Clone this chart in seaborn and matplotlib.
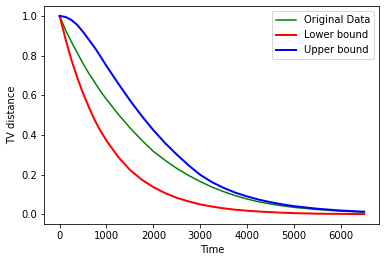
import matplotlib
matplotlib.use('Agg')
import matplotlib.pyplot as plt
import seaborn as sns

# values
time = [0, 125, 250, 375, 500, 625, 750, 875, 1000, 1250, 1500, 1750, 2000,
        2250, 2500, 2750, 3000, 3250, 3500, 3750, 4000, 4250, 4500, 4750,
        5000, 5500, 6000, 6500]
original = [1.0, 0.93, 0.87, 0.815, 0.76, 0.71, 0.665, 0.62, 0.58, 0.505, 0.437,
            0.375, 0.318, 0.273, 0.232, 0.197, 0.166, 0.138, 0.115, 0.095, 0.078,
            0.064, 0.053, 0.044, 0.036, 0.025, 0.017, 0.012]
lower = [1.0, 0.885, 0.78, 0.69, 0.61, 0.54, 0.475, 0.42, 0.372, 0.29, 0.225,
         0.176, 0.138, 0.108, 0.084, 0.066, 0.051, 0.04, 0.031, 0.024, 0.019,
         0.015, 0.012, 0.009, 0.007, 0.004, 0.003, 0.002]
upper = [1.0, 0.995, 0.98, 0.955, 0.92, 0.88, 0.84, 0.795, 0.748, 0.66, 0.575,
         0.497, 0.425, 0.36, 0.302, 0.248, 0.2, 0.163, 0.134, 0.11, 0.091,
         0.075, 0.062, 0.051, 0.042, 0.029, 0.02, 0.014]

fig, ax = plt.subplots(figsize=(386 / 72, 262 / 72), dpi=72)
fig.subplots_adjust(left=0.115, right=0.983, top=0.977, bottom=0.145)

sns.lineplot(x=time, y=original, color='green', linewidth=1.5, label='Original Data', ax=ax)
sns.lineplot(x=time, y=lower, color='red', linewidth=2, label='Lower bound', ax=ax)
sns.lineplot(x=time, y=upper, color='blue', linewidth=2, label='Upper bound', ax=ax)

ax.set_xlabel('Time')
ax.set_ylabel('TV distance')
ax.legend(loc='upper right')

fig.savefig('out.png', dpi=72)
